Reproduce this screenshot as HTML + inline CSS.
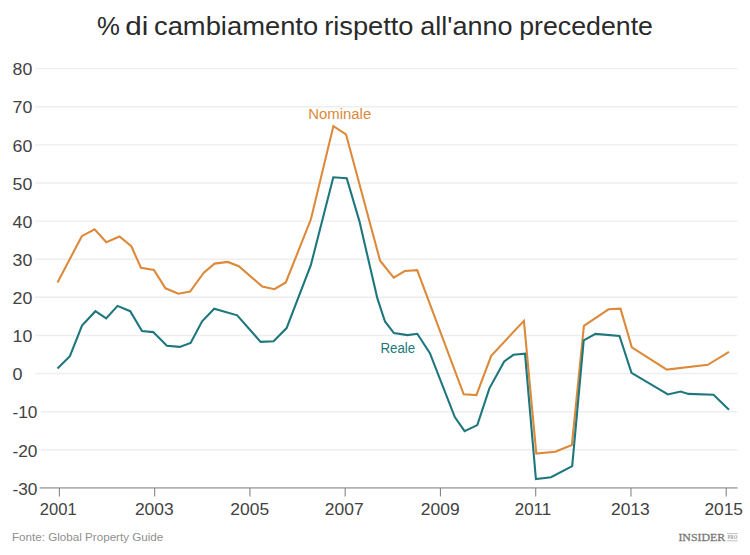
<!DOCTYPE html>
<html><head><meta charset="utf-8"><style>
html,body{margin:0;padding:0;background:#fff;}
body{width:750px;height:555px;overflow:hidden;}
svg{display:block;}
text{font-family:"Liberation Sans",sans-serif;}
.yl{font-size:16.4px;fill:#424242;}
.xl{font-size:16.3px;fill:#424242;}
.title{font-size:26.6px;fill:#2a2a2a;}
.lab{font-size:14px;}
.src{font-size:11.6px;fill:#909090;}
.logo{font-family:"Liberation Serif",serif;font-weight:400;font-size:11.3px;fill:#7a7a7a;stroke:#7a7a7a;stroke-width:0.3px;}
.pro{font-family:"Liberation Serif",serif;font-weight:700;font-size:5.2px;fill:#a0a0a0;text-anchor:middle;}
</style></head><body>
<svg width="750" height="555" viewBox="0 0 750 555">
<rect width="750" height="555" fill="#fff"/>
<line x1="35" y1="68.60" x2="737.6" y2="68.60" stroke="#eeeeee" stroke-width="1.4"/>
<text x="12.50" y="75.30" class="yl" textLength="19.80" lengthAdjust="spacingAndGlyphs">80</text>
<line x1="35" y1="106.72" x2="737.6" y2="106.72" stroke="#eeeeee" stroke-width="1.4"/>
<text x="12.50" y="113.42" class="yl" textLength="19.80" lengthAdjust="spacingAndGlyphs">70</text>
<line x1="35" y1="144.84" x2="737.6" y2="144.84" stroke="#eeeeee" stroke-width="1.4"/>
<text x="12.50" y="151.54" class="yl" textLength="19.80" lengthAdjust="spacingAndGlyphs">60</text>
<line x1="35" y1="182.96" x2="737.6" y2="182.96" stroke="#eeeeee" stroke-width="1.4"/>
<text x="12.50" y="189.66" class="yl" textLength="19.80" lengthAdjust="spacingAndGlyphs">50</text>
<line x1="35" y1="221.08" x2="737.6" y2="221.08" stroke="#eeeeee" stroke-width="1.4"/>
<text x="12.50" y="227.78" class="yl" textLength="19.80" lengthAdjust="spacingAndGlyphs">40</text>
<line x1="35" y1="259.20" x2="737.6" y2="259.20" stroke="#eeeeee" stroke-width="1.4"/>
<text x="12.50" y="265.90" class="yl" textLength="19.80" lengthAdjust="spacingAndGlyphs">30</text>
<line x1="35" y1="297.32" x2="737.6" y2="297.32" stroke="#eeeeee" stroke-width="1.4"/>
<text x="12.50" y="304.02" class="yl" textLength="19.80" lengthAdjust="spacingAndGlyphs">20</text>
<line x1="35" y1="335.44" x2="737.6" y2="335.44" stroke="#eeeeee" stroke-width="1.4"/>
<text x="12.50" y="342.14" class="yl" textLength="19.80" lengthAdjust="spacingAndGlyphs">10</text>
<line x1="35" y1="373.56" x2="737.6" y2="373.56" stroke="#eeeeee" stroke-width="1.4"/>
<text x="12.50" y="380.26" class="yl" textLength="10.00" lengthAdjust="spacingAndGlyphs">0</text>
<line x1="41" y1="411.68" x2="737.6" y2="411.68" stroke="#eeeeee" stroke-width="1.4"/>
<text x="12.50" y="418.38" class="yl" textLength="25.00" lengthAdjust="spacingAndGlyphs">-10</text>
<line x1="41" y1="449.80" x2="737.6" y2="449.80" stroke="#eeeeee" stroke-width="1.4"/>
<text x="12.50" y="456.50" class="yl" textLength="25.00" lengthAdjust="spacingAndGlyphs">-20</text>
<text x="12.50" y="494.62" class="yl" textLength="25.00" lengthAdjust="spacingAndGlyphs">-30</text>
<line x1="39.6" y1="487.92" x2="737.6" y2="487.92" stroke="#b0b0b0" stroke-width="1.7"/>
<line x1="59.40" y1="487.92" x2="59.40" y2="496.42" stroke="#858585" stroke-width="1.1"/>
<text x="39.80" y="515.20" class="xl" textLength="36.80" lengthAdjust="spacingAndGlyphs">2001</text>
<line x1="154.66" y1="487.92" x2="154.66" y2="496.42" stroke="#858585" stroke-width="1.1"/>
<text x="134.90" y="515.20" class="xl" textLength="38.80" lengthAdjust="spacingAndGlyphs">2003</text>
<line x1="249.92" y1="487.92" x2="249.92" y2="496.42" stroke="#858585" stroke-width="1.1"/>
<text x="230.30" y="515.20" class="xl" textLength="38.80" lengthAdjust="spacingAndGlyphs">2005</text>
<line x1="345.18" y1="487.92" x2="345.18" y2="496.42" stroke="#858585" stroke-width="1.1"/>
<text x="324.80" y="515.20" class="xl" textLength="38.80" lengthAdjust="spacingAndGlyphs">2007</text>
<line x1="440.44" y1="487.92" x2="440.44" y2="496.42" stroke="#858585" stroke-width="1.1"/>
<text x="420.80" y="515.20" class="xl" textLength="38.80" lengthAdjust="spacingAndGlyphs">2009</text>
<line x1="535.70" y1="487.92" x2="535.70" y2="496.42" stroke="#858585" stroke-width="1.1"/>
<text x="514.80" y="515.20" class="xl" textLength="36.40" lengthAdjust="spacingAndGlyphs">2011</text>
<line x1="630.96" y1="487.92" x2="630.96" y2="496.42" stroke="#858585" stroke-width="1.1"/>
<text x="611.00" y="515.20" class="xl" textLength="38.80" lengthAdjust="spacingAndGlyphs">2013</text>
<line x1="726.22" y1="487.92" x2="726.22" y2="496.42" stroke="#858585" stroke-width="1.1"/>
<text x="704.40" y="515.20" class="xl" textLength="38.60" lengthAdjust="spacingAndGlyphs">2015</text>
<polyline points="57.5,282.5 81.8,236.2 94.6,229.3 106.3,242.3 119.5,236.5 131.3,246.2 141.0,267.9 153.9,270.0 165.5,288.3 178.4,293.7 190.1,291.6 203.8,272.7 214.6,263.6 227.8,261.9 238.8,266.2 262.3,286.6 274.3,289.2 285.8,282.5 310.9,219.3 333.4,126.1 346.0,134.3 380.1,260.7 393.7,277.7 404.8,271.0 417.2,270.1 463.7,394.3 476.4,395.1 491.2,355.8 523.9,320.8 536.3,453.5 555.3,451.7 571.9,444.9 583.9,325.8 608.5,309.3 620.5,308.7 631.8,347.3 666.8,369.6 707.8,364.8 729.0,351.9" fill="none" stroke="#dc8a3a" stroke-width="2.1" stroke-linejoin="miter" stroke-miterlimit="10"/>
<polyline points="57.5,368.5 69.9,356.2 82.0,325.6 95.4,311.2 106.2,318.4 117.5,305.9 130.2,311.2 142.0,331.1 153.2,332.1 166.9,345.8 179.8,346.9 190.6,342.9 202.1,321.3 214.2,308.7 237.2,315.3 260.6,341.9 273.6,341.2 286.6,328.1 310.9,264.9 333.3,177.3 346.7,178.3 359.4,221.1 377.3,298.1 385.0,321.5 393.9,333.1 407.6,335.1 417.3,333.8 429.9,353.2 454.8,417.1 464.6,431.1 477.3,425.1 489.4,388.3 504.2,361.5 513.4,354.8 525.0,353.6 535.9,479.0 551.0,477.3 572.2,466.2 583.7,340.3 595.5,333.9 619.5,335.9 631.5,372.8 667.9,394.4 680.6,391.5 688.4,393.9 713.5,394.7 729.0,409.8" fill="none" stroke="#1e777d" stroke-width="2.1" stroke-linejoin="miter" stroke-miterlimit="10"/>
<text x="96.94" y="34.90" class="title" textLength="22.87" lengthAdjust="spacingAndGlyphs">%</text><text x="125.27" y="34.90" class="title" textLength="23.07" lengthAdjust="spacingAndGlyphs">di</text><text x="153.97" y="34.90" class="title" textLength="164.20" lengthAdjust="spacingAndGlyphs">cambiamento</text><text x="324.17" y="34.90" class="title" textLength="89.36" lengthAdjust="spacingAndGlyphs">rispetto</text><text x="420.18" y="34.90" class="title" textLength="92.40" lengthAdjust="spacingAndGlyphs">all&#39;anno</text><text x="519.19" y="34.90" class="title" textLength="133.79" lengthAdjust="spacingAndGlyphs">precedente</text>
<text x="308.20" y="119.00" class="lab" textLength="63.00" lengthAdjust="spacingAndGlyphs" fill="#dc8a3a">Nominale</text>
<text x="380.40" y="352.50" class="lab" textLength="34.80" lengthAdjust="spacingAndGlyphs" fill="#1e777d">Reale</text>
<text x="12.00" y="540.80" class="src" textLength="151.30" lengthAdjust="spacingAndGlyphs">Fonte: Global Property Guide</text>
<text x="678.40" y="541.20" class="logo" textLength="46.80" lengthAdjust="spacingAndGlyphs">INSIDER</text>
<line x1="727" y1="533.6" x2="737.8" y2="533.6" stroke="#b0b0b0" stroke-width="0.8"/>
<line x1="727" y1="540.8" x2="737.8" y2="540.8" stroke="#b0b0b0" stroke-width="0.8"/>
<text x="732.4" y="539.2" class="pro" textLength="9.6" lengthAdjust="spacingAndGlyphs">PRO</text>
</svg>
</body></html>
